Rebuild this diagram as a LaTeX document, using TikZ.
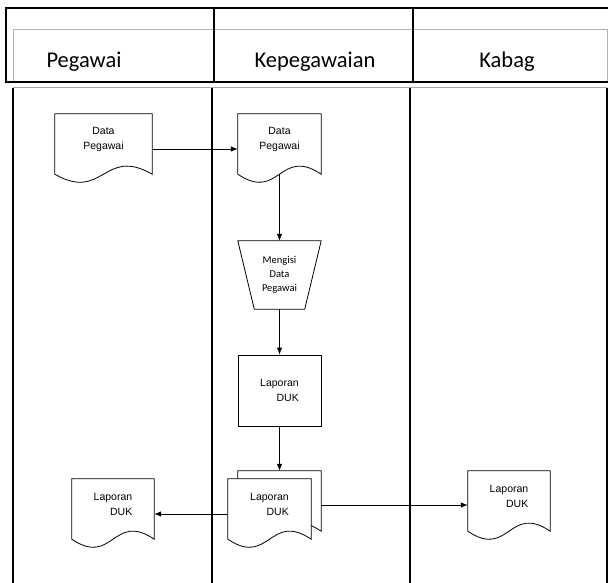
\documentclass[tikz,border=0pt]{standalone}
\usepackage{fontspec}
\setmainfont{Liberation Sans}
\newfontfamily\judul{Carlito}
\usetikzlibrary{arrows.meta, backgrounds, calc, positioning}

% bentuk dokumen: kotak dengan sisi bawah bergelombang
\newcommand{\gambardok}[1]{%
  \begin{pgfonlayer}{background}
    \draw[garis, fill=white] ([yshift=-10pt]#1.south west) -- (#1.north west) -- (#1.north east) -- ([yshift=-10pt]#1.south east)
      .. controls ($(#1.south west)!0.5!(#1.south east) + (0,-18)$) and ($(#1.south west)!0.5!(#1.south east) + (0,38)$) .. ([yshift=-10pt]#1.south west) -- cycle;
  \end{pgfonlayer}}

% bentuk input manual: trapesium terbalik
\newcommand{\gambarmanual}[1]{%
  \draw[garis] (#1.north west) -- (#1.north east) -- ([xshift=-16.5pt]#1.south east) -- ([xshift=16.5pt]#1.south west) -- cycle;}

\tikzset{
  garis/.style={line width=0.8pt},
  dok/.style={minimum width=#1, minimum height=50, inner sep=0pt, align=center, font=\fontsize{10.5}{15}\selectfont},
  dokkanan/.style={dok=#1, align=right},
  proses/.style={draw, garis, minimum width=83, minimum height=71, inner sep=0pt, align=right, font=\fontsize{10.5}{15}\selectfont},
  manual/.style={minimum width=83, minimum height=68, inner sep=0pt, align=center, font=\judul\fontsize{10.5}{14}\selectfont},
  kepala/.style={font=\judul\fontsize{22.5}{26}\selectfont},
  panah/.style={garis, -{Latex[length=7pt, width=5.5pt]}}
}

\begin{document}
\begin{tikzpicture}[x=1pt, y=-1pt]
    \useasboundingbox (0,0) rectangle (608,583);

    % kepala tabel
    \draw[gray!60, line width=0.8pt] (13,82) -- (13,29) -- (607,29) -- (607,82);
    \draw[line width=2.2pt] (6,8) rectangle (614,82);
    \draw[line width=1.6pt] (214,8) -- (214,82) (413,8) -- (413,82);
    \node[kepala] (hPeg) at (84,62) {Pegawai};
    \node[kepala] (hKep) at (315,62) {Kepegawaian};
    \node[kepala] (hKab) at (507,62) {Kabag};

    % jalur
    \draw[gray!70, line width=1pt] (13,88) -- (607,88);
    \draw[line width=1.4pt] (13,88) -- (13,583) (212,88) -- (212,583) (410,88) -- (410,583) (607,88) -- (607,583);

    % simbol
    \node[dok=97] (dp1) at (103.5,139) {Data\\Pegawai};
    \node[dok=83] (dp2) at (279.5,139) {Data\\Pegawai};
    \node[manual] (isi) at (279.5,275) {Mengisi\\Data\\Pegawai};
    \node[proses] (lap) at (279.5,390.5) {Laporan\\DUK};
    \node[dokkanan=83] (lapB) at (279.5,496) {};
    \node[dokkanan=83] (lapA) at (269.5,504) {Laporan\\DUK};
    \node[dokkanan=82] (lapP) at (113,504) {Laporan\\DUK};
    \node[dokkanan=82] (lapK) at (509,496) {Laporan\\DUK};

    \gambarmanual{isi}
    \gambardok{dp1}
    \gambardok{dp2}
    \gambardok{lapB}
    \gambardok{lapA}
    \gambardok{lapP}
    \gambardok{lapK}

    % aliran
    \draw[panah] ([yshift=-10pt]dp1.east) -- ([yshift=-10pt]dp2.west);
    \draw[panah] ([yshift=-10pt]dp2.south) -- (isi.north);
    \draw[panah] (isi.south) -- (lap.north);
    \draw[panah] (lap.south) -- (lapB.north);
    \draw[panah] ([yshift=-10pt]lapA.west) -- ([yshift=-10pt]lapP.east);
    \draw[panah] ([yshift=-9pt]lapB.east) -- ([yshift=-9pt]lapK.west);
\end{tikzpicture}
\end{document}
